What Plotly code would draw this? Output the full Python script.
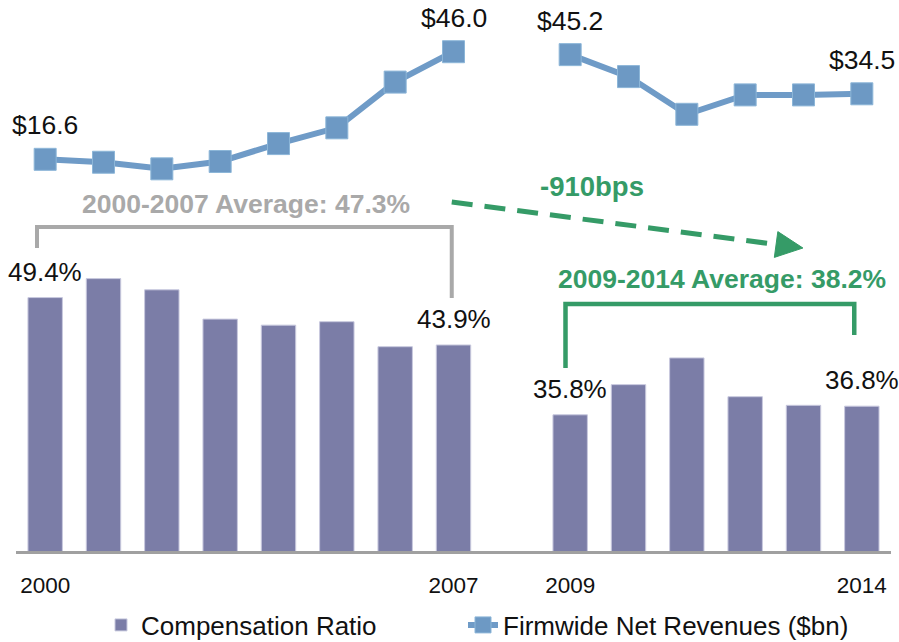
import plotly.graph_objects as go

# ---------------- data ----------------
years = [2000, 2001, 2002, 2003, 2004, 2005, 2006, 2007, 2008,
         2009, 2010, 2011, 2012, 2013, 2014]
comp_ratio = [49.4, 51.6, 50.3, 46.9, 46.2, 46.6, 43.7, 43.9, None,
              35.8, 39.3, 42.4, 37.9, 36.9, 36.8]
net_revenues = [16.6, 15.8, 14.0, 16.0, 20.9, 25.2, 37.7, 46.0, None,
                45.2, 39.2, 28.9, 34.2, 34.2, 34.5]
tick_years = [2000, 2007, 2009, 2014]
tick_labels = ["2000", "2007", "2009", "2014"]
labeled_years = [2000, 2007, 2009, 2014]

series_names = ["Compensation Ratio", "Firmwide Net Revenues ($bn)"]
avg_text_pre = "2000-2007 Average: 47.3%"
avg_text_post = "2009-2014 Average: 38.2%"
change_text = "-910bps"

# ---------------- style ----------------
FONT = "Arial, 'Liberation Sans', sans-serif"
BAR_COLOR = "#7B7DA7"
LINE_COLOR = "#6F9BC7"
GRAY = "#A9A9A9"
GREEN = "#359B67"
TXT = "#111111"

fig = go.Figure()

fig.add_trace(go.Bar(
    x=years, y=comp_ratio, name=series_names[0],
    marker=dict(color=BAR_COLOR, line=dict(color="#C8C9DE", width=1)),
    width=0.59, yaxis="y", legend="legend",
))
fig.add_trace(go.Scatter(
    x=years, y=net_revenues, name=series_names[1], mode="lines+markers",
    line=dict(color=LINE_COLOR, width=6),
    marker=dict(symbol="square", size=22, color="#6D99C4",
                line=dict(color="#8CB6D8", width=1)),
    connectgaps=False, yaxis="y2", legend="legend2",
))

annotations = []
for yr in labeled_years:
    i = years.index(yr)
    annotations.append(dict(
        x=yr, y=comp_ratio[i], xref="x", yref="y",
        text=f"{comp_ratio[i]:.1f}%", showarrow=False,
        yanchor="middle", yshift=26,
        font=dict(family=FONT, size=26, color=TXT)))
    annotations.append(dict(
        x=yr, y=net_revenues[i], xref="x", yref="y2",
        text=f"${net_revenues[i]:.1f}", showarrow=False,
        yanchor="middle", yshift=34,
        font=dict(family=FONT, size=26.5, color=TXT)))

annotations += [
    dict(x=2003.44, y=60.3, xref="x", yref="y", text=f"<b>{avg_text_pre}</b>",
         showarrow=False, font=dict(family=FONT, size=26.5, color=GRAY)),
    dict(x=2011.6, y=51.6, xref="x", yref="y", text=f"<b>{avg_text_post}</b>",
         showarrow=False, font=dict(family=FONT, size=26.5, color=GREEN)),
    dict(x=2009.38, y=62.3, xref="x", yref="y", text=f"<b>{change_text}</b>",
         showarrow=False, font=dict(family=FONT, size=27.5, color=GREEN)),
]

shapes = [
    # grey bracket 2000-2007
    dict(type="path", xref="x", yref="y",
         path="M 1999.86,55.15 L 1999.86,57.59 L 2006.97,57.59 L 2006.97,49.35",
         line=dict(color=GRAY, width=4), layer="above"),
    # green bracket 2009-2014
    dict(type="path", xref="x", yref="y",
         path="M 2008.92,41.23 L 2008.92,48.65 L 2013.87,48.65 L 2013.87,45.06",
         line=dict(color=GREEN, width=4.5), layer="above"),
    # dashed arrow
    dict(type="line", xref="x", yref="y", x0=2006.97, y0=60.49, x1=2012.53, y1=55.56,
         line=dict(color=GREEN, width=5, dash="21px,12px"), layer="above"),
    dict(type="path", xref="x", yref="y",
         path="M 2012.99,55.15 L 2012.56,57.05 L 2012.50,54.06 Z",
         fillcolor=GREEN, line=dict(color=GREEN, width=1), layer="above"),
]

legend_common = dict(orientation="h", xref="container", yref="container",
                     y=17 / 642, xanchor="left", yanchor="middle",
                     font=dict(family=FONT, size=26, color=TXT),
                     bgcolor="rgba(0,0,0,0)")

fig.update_layout(
    width=899, height=642,
    margin=dict(l=16, r=8, t=0, b=91),
    paper_bgcolor="white", plot_bgcolor="white",
    font=dict(family=FONT, size=24, color=TXT),
    bargap=0.41,
    xaxis=dict(range=[1999.5, 2014.5], tickmode="array", tickvals=tick_years,
               ticktext=tick_labels, showgrid=False, zeroline=False,
               showline=True, linecolor="#A0A0A0", linewidth=3,
               ticks="", ticklabelstandoff=12,
               tickfont=dict(family=FONT, size=22.5, color=TXT)),
    yaxis=dict(range=[20, 83.92], visible=False, showgrid=False, fixedrange=True),
    yaxis2=dict(range=[-90.42, 60.13], overlaying="y", visible=False,
                showgrid=False),
    showlegend=True,
    legend=dict(x=101 / 899, **legend_common),
    legend2=dict(x=463 / 899, **legend_common),
    annotations=annotations,
    shapes=shapes,
)

fig.write_html("out.html", config={"displayModeBar": False},
               post_script="document.body.style.margin='0';")
